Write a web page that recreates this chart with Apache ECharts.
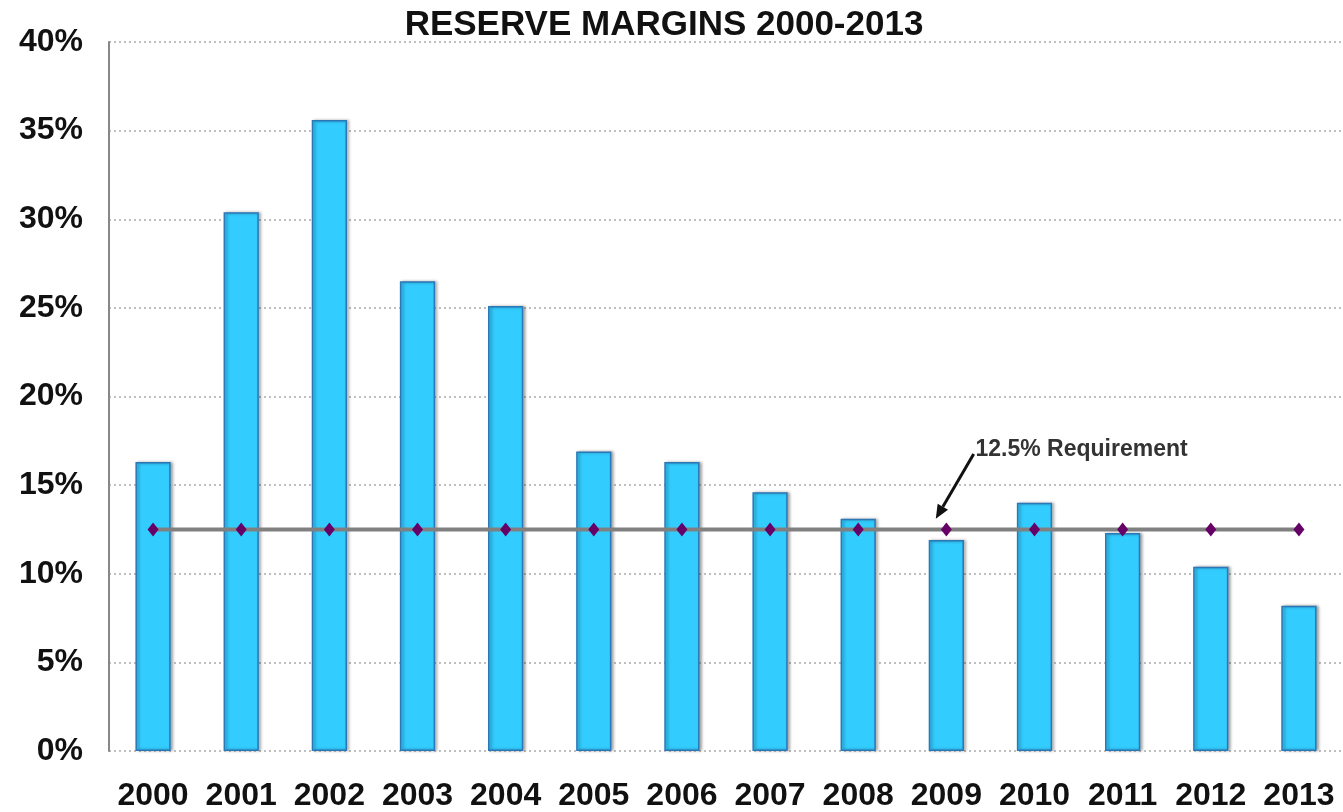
<!DOCTYPE html>
<html>
<head>
<meta charset="utf-8">
<script src="https://cdn.jsdelivr.net/npm/echarts@6/dist/echarts.min.js"></script>
<style>
html,body{margin:0;padding:0;background:#fff;}
#main{width:1343px;height:812px;}
</style>
</head>
<body>
<div id="main"></div>
<script>
var years=['2000','2001','2002','2003','2004','2005','2006','2007','2008','2009','2010','2011','2012','2013'];
var reserveMargin=[16.3,30.4,35.6,26.5,25.1,16.9,16.3,14.6,13.1,11.9,14.0,12.3,10.4,8.2];
var requirement=[12.5,12.5,12.5,12.5,12.5,12.5,12.5,12.5,12.5,12.5,12.5,12.5,12.5,12.5];
var yTicks=[0,5,10,15,20,25,30,35,40];
// annotation anchors in data space (category index, percent)
var noteText='12.5% Requirement';
var notePos=[9.33,17.0];
var arrowFrom=[9.31,16.75];
var arrowTo=[8.88,13.1];

var myChart=echarts.init(document.getElementById('main'));
var option={
    backgroundColor:'#fff',
    animation:false,
    title:{
        text:'RESERVE MARGINS 2000-2013',
        left:659,
        textAlign:'center',
        top:3,
        textStyle:{
            fontFamily:'Liberation Sans',
            fontWeight:'bold',
            fontSize:35,
            color:'#111'
        }
    },
    grid:{
        left:109,
        top:42,
        bottom:60,
        width:1240
    },
    xAxis:{
        type:'category',
        data:years,
        axisLine:{show:false},
        axisTick:{show:false},
        axisLabel:{
            margin:29,
            interval:0,
            color:'#111',
            fontFamily:'Liberation Sans',
            fontWeight:'bold',
            fontSize:32
        }
    },
    yAxis:{
        type:'value',
        min:yTicks[0],
        max:yTicks[yTicks.length-1],
        interval:5,
        axisLine:{show:true,lineStyle:{color:'#888',width:2}},
        axisTick:{show:false},
        axisLabel:{
            margin:26,
            color:'#111',
            fontFamily:'Liberation Sans',
            fontWeight:'bold',
            fontSize:32,
            padding:[6,0,0,0],
            formatter:'{value}%'
        },
        splitLine:{
            show:true,
            lineStyle:{color:'#aaa',type:[2,3],width:1.5}
        }
    },
    series:[{
        name:'Reserve Margin',
        type:'bar',
        data:reserveMargin,
        barWidth:'40%',
        itemStyle:{
            color:'#33ccff',
            borderColor:'#2a78b8',
            borderWidth:1.5,
            shadowColor:'rgba(0,0,0,0.35)',
            shadowBlur:3,
            shadowOffsetX:2,
            shadowOffsetY:0
        }
    },{
        name:'12.5% Requirement',
        type:'line',
        data:requirement,
        symbol:'diamond',
        symbolSize:[11,14],
        z:5,
        lineStyle:{color:'#808080',width:4},
        itemStyle:{color:'#660066'}
    }]
};
myChart.setOption(option);

// fractional category positions -> pixels
function toPx(p){
    var i=Math.floor(p[0]);
    var a=myChart.convertToPixel({gridIndex:0},[i,p[1]]);
    var b=myChart.convertToPixel({gridIndex:0},[i+1,p[1]]);
    return [a[0]+(p[0]-i)*(b[0]-a[0]),a[1]];
}
var s=toPx(arrowFrom),e=toPx(arrowTo),t=toPx(notePos);
var dx=e[0]-s[0],dy=e[1]-s[1],len=Math.sqrt(dx*dx+dy*dy);
var ux=dx/len,uy=dy/len,hl=14,hw=6;
var bx=e[0]-ux*hl,by=e[1]-uy*hl;
myChart.setOption({
    graphic:[{
        type:'line',
        z:10,
        shape:{x1:s[0],y1:s[1],x2:bx,y2:by},
        style:{stroke:'#111',lineWidth:3}
    },{
        type:'polygon',
        z:10,
        shape:{points:[[e[0],e[1]],[bx-uy*hw,by+ux*hw],[bx+uy*hw,by-ux*hw]]},
        style:{fill:'#111'}
    },{
        type:'text',
        z:10,
        x:t[0],
        y:t[1],
        style:{
            text:noteText,
            fill:'#333',
            font:'bold 23px "Liberation Sans"',
            textAlign:'left',
            textVerticalAlign:'middle'
        }
    }]
});
</script>
</body>
</html>
